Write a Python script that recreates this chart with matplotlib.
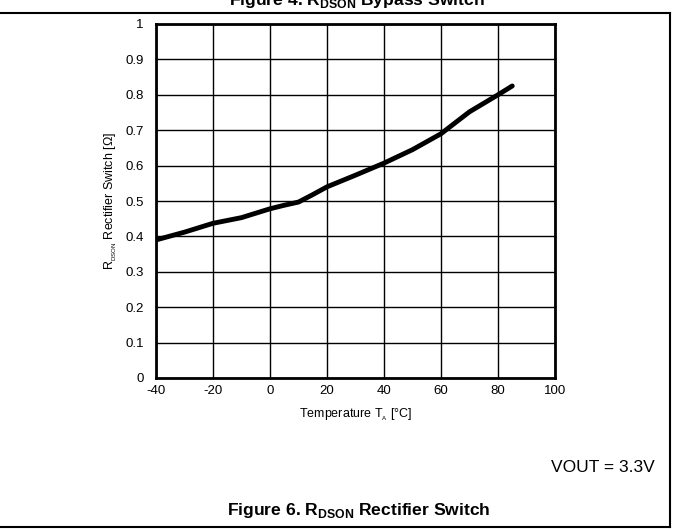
import matplotlib
matplotlib.use("Agg")
import matplotlib.pyplot as plt
from matplotlib.lines import Line2D

plt.rcParams['font.family'] = ['Liberation Sans', 'DejaVu Sans']
plt.rcParams['axes.unicode_minus'] = False

temp_c = [-40, -30, -20, -10, 0, 5, 10, 15, 20, 30, 40, 50, 60, 70, 80, 85]
rdson_ohm = [0.390, 0.412, 0.437, 0.453, 0.478, 0.488, 0.497, 0.518, 0.540, 0.573, 0.607, 0.645, 0.690, 0.752, 0.800, 0.825]
x_ticks = [-40, -20, 0, 20, 40, 60, 80, 100]
y_ticks = [0, 0.1, 0.2, 0.3, 0.4, 0.5, 0.6, 0.7, 0.8, 0.9, 1]
y_tick_labels = ["0", "0.1", "0.2", "0.3", "0.4", "0.5", "0.6", "0.7", "0.8", "0.9", "1"]

W, H = 673, 529
fig = plt.figure(figsize=(W / 100, H / 100), dpi=100)
ax = fig.add_axes([156 / W, 1 - 378 / H, (555 - 156) / W, (378 - 24) / H])

ax.plot(temp_c, rdson_ohm, color='black', lw=3.5, solid_capstyle='round', zorder=3)
ax.set_xlim(-40, 100)
ax.set_ylim(0, 1)
ax.set_xticks(x_ticks)
ax.set_yticks(y_ticks)
ax.set_yticklabels(y_tick_labels)
ax.grid(True, color='black', lw=1.0)
ax.tick_params(axis='x', length=0, labelsize=9.5, pad=5)
ax.tick_params(axis='y', length=0, labelsize=9.5, pad=9)
for s in ax.spines.values():
    s.set_linewidth(2)
ax.set_xlabel("Temperature T$_{\\mathregular{_A}}$ [°C]", fontsize=9, labelpad=7)
ax.set_ylabel("R$_{\\mathregular{_{DSON}}}$ Rectifier Switch [Ω]", fontsize=9, labelpad=4)

# frame lines
fig.add_artist(Line2D([0, 670 / W], [1 - 13 / H, 1 - 13 / H], color='black', lw=1.5, transform=fig.transFigure))
fig.add_artist(Line2D([670 / W, 670 / W], [1 - 13 / H, 1 - 527 / H], color='black', lw=1.5, transform=fig.transFigure))
fig.add_artist(Line2D([0, 670 / W], [1 - 527 / H, 1 - 527 / H], color='black', lw=1.5, transform=fig.transFigure))

fig.text(357 / W, 1 - 5 / H, "Figure 4. R$_{\\mathregular{DSON}}$ Bypass Switch", ha='center', va='baseline',
         fontsize=12.6, fontweight='bold')
fig.text(655 / W, 1 - 468 / H, "VOUT = 3.3V", ha='right', va='center', fontsize=12.5)
fig.text(359 / W, 1 - 515 / H, "Figure 6. R$_{\\mathregular{DSON}}$ Rectifier Switch", ha='center', va='baseline',
         fontsize=12.6, fontweight='bold')

fig.savefig("out.png", dpi=100)
